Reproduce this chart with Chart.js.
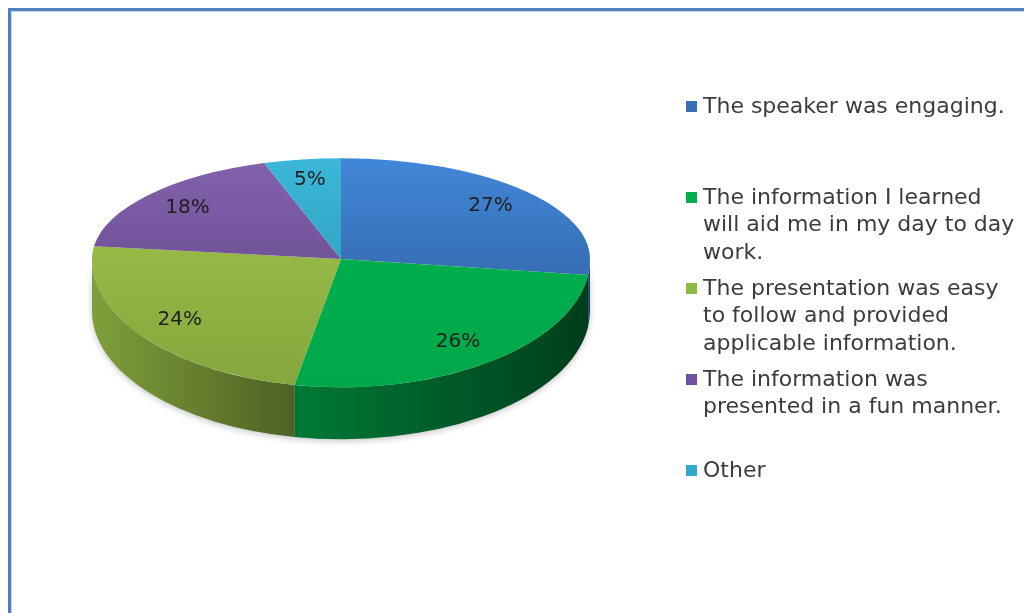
<!DOCTYPE html>
<html>
<head>
<meta charset="utf-8">
<script src="https://cdn.jsdelivr.net/npm/chart.js@4.4.0/dist/chart.umd.min.js"></script>
<style>
    html, body { margin: 0; padding: 0; background: #fff; overflow: hidden; }
    #wrap { position: relative; width: 1024px; height: 613px; }
    #frame {
        position: absolute; left: 8px; top: 8px; width: 1100px; height: 700px;
        border-left: 3px solid #4f81bd; border-top: 3px solid #4f81bd;
        box-shadow: inset 1px 1px 0 #c6d6ec;
    }
    canvas { position: absolute; left: 0; top: 0; }
</style>
</head>
<body>
<div id="wrap">
    <canvas id="surveyPie" width="1024" height="613"></canvas>
    <div id="frame"></div>
</div>
<script>
// legend text, already wrapped the way the original shows it
const categories = [
    ["The speaker was engaging."],
    ["The information I learned", "will aid me in my day to day", "work."],
    ["The presentation was easy", "to follow and provided", "applicable information."],
    ["The information was", "presented in a fun manner."],
    ["Other"],
];
const shares = [27, 26, 24, 18, 5];

const topColors = [
    ["#4287d8", "#2d5c99"],
    ["#00b34f", "#00a84a"],
    ["#a6c84c", "#84a63d"],
    ["#8462ae", "#5e4484"],
    ["#3bb7d8", "#2b93b2"],
];
const sideColors = [
    ["#2b548c", "#22436f"],
    ["#007a36", "#003e1b"],
    ["#7f9f3b", "#4e6124"],
    ["#5a4080", "#3f2c5a"],
    ["#2a8aa6", "#1e6679"],
];
const legendColors = ["#3a6fb5", "#00b050", "#8cbb45", "#7050a0", "#33a9cb"];

// fake perspective: back half flatter than the front half
const APEX = 259;
const TILT_BACK = 0.405;
const TILT_FRONT = 0.515;
const DEPTH = 52;

function sideRanges(s, e) {
    // only the front half (0..PI) of the rim is visible
    const a = Math.max(s, 0), b = Math.min(e, Math.PI);
    return a < b ? [[a, b]] : [];
}

function squash(ctx, chart, tilt) {
    const y0 = chart.getDatasetMeta(0).data[0].y;
    ctx.translate(0, APEX);
    ctx.scale(1, tilt);
    ctx.translate(0, -y0);
}

const tiltPlugin = {
    id: "tilt",
    beforeDatasetsDraw(chart) {
        const ctx = chart.ctx;
        const arcs = chart.getDatasetMeta(0).data;
        const cx = arcs[0].x, rx = arcs[0].outerRadius, ry = rx * TILT_FRONT;

        ctx.save();
        ctx.shadowColor = "rgba(0,0,0,0.22)";
        ctx.shadowBlur = 6;
        ctx.shadowOffsetY = 2;
        arcs.forEach((arc, i) => {
            sideRanges(arc.startAngle, arc.endAngle).forEach(([a, b]) => {
                const x1 = cx + rx * Math.cos(b), x2 = cx + rx * Math.cos(a);
                const g = ctx.createLinearGradient(x1, 0, x2, 0);
                g.addColorStop(0, sideColors[i][0]);
                g.addColorStop(1, sideColors[i][1]);
                ctx.beginPath();
                ctx.ellipse(cx, APEX, rx, ry, 0, a, b, false);
                ctx.lineTo(x1, APEX + ry * Math.sin(b) + DEPTH);
                ctx.ellipse(cx, APEX + DEPTH, rx, ry, 0, b, a, true);
                ctx.closePath();
                ctx.fillStyle = g;
                ctx.fill();
            });
        });
        ctx.restore();

        // back half of the top face
        ctx.save();
        ctx.beginPath();
        ctx.rect(0, 0, chart.width, APEX);
        ctx.clip();
        squash(ctx, chart, TILT_BACK);
    },
    afterDatasetsDraw(chart) {
        const ctx = chart.ctx;
        ctx.restore();

        // front half of the top face
        ctx.save();
        ctx.beginPath();
        ctx.rect(0, APEX, chart.width, chart.height - APEX);
        ctx.clip();
        squash(ctx, chart, TILT_FRONT);
        chart.getDatasetMeta(0).controller.draw();
        ctx.restore();

        const arcs = chart.getDatasetMeta(0).data;
        const cx = arcs[0].x, rx = arcs[0].outerRadius;
        ctx.save();
        ctx.font = "20px 'DejaVu Sans'";
        ctx.fillStyle = "#1e1e1e";
        ctx.textAlign = "center";
        ctx.textBaseline = "middle";
        arcs.forEach((arc, i) => {
            const mid = (arc.startAngle + arc.endAngle) / 2;
            const s = Math.sin(mid);
            const ry = rx * (s > 0 ? TILT_FRONT : TILT_BACK);
            const x = cx + rx * 0.8 * Math.cos(mid);
            const y = APEX + ry * 0.8 * s;
            ctx.fillText(shares[i] + "%", x, y);
        });
        ctx.restore();
    },
    afterDraw(chart) {
        const ctx = chart.ctx;
        ctx.save();
        ctx.font = "22px 'DejaVu Sans'";
        ctx.textBaseline = "middle";
        ctx.textAlign = "left";
        categories.forEach((lines, i) => {
            const y0 = 107 + i * 91;
            ctx.fillStyle = legendColors[i];
            ctx.fillRect(686, y0 - 6, 11, 11);
            ctx.fillStyle = "#3c3c3c";
            lines.forEach((t, k) => ctx.fillText(t, 703, y0 + k * 27.7));
        });
        ctx.restore();
    },
};

const ctx = document.getElementById("surveyPie").getContext("2d");

new Chart(ctx, {
    type: "pie",
    data: {
        labels: categories,
        datasets: [
            {
                data: shares,
                backgroundColor: (c) => {
                    const area = c.chart.chartArea;
                    if (!area) return topColors[c.dataIndex][0];
                    const mid = (area.top + area.bottom) / 2;
                    const r = (area.right - area.left) / 2;
                    const g = c.chart.ctx.createLinearGradient(0, mid - r, 0, mid + r);
                    g.addColorStop(0, topColors[c.dataIndex][0]);
                    g.addColorStop(1, topColors[c.dataIndex][1]);
                    return g;
                },
                borderWidth: 0,
            },
        ],
    },
    options: {
        responsive: false,
        animation: false,
        layout: {
            padding: { left: 92, right: 434, top: 0, bottom: 0 },
        },
        plugins: {
            legend: { display: false },
            tooltip: { enabled: false },
        },
    },
    plugins: [tiltPlugin],
});
</script>
</body>
</html>
